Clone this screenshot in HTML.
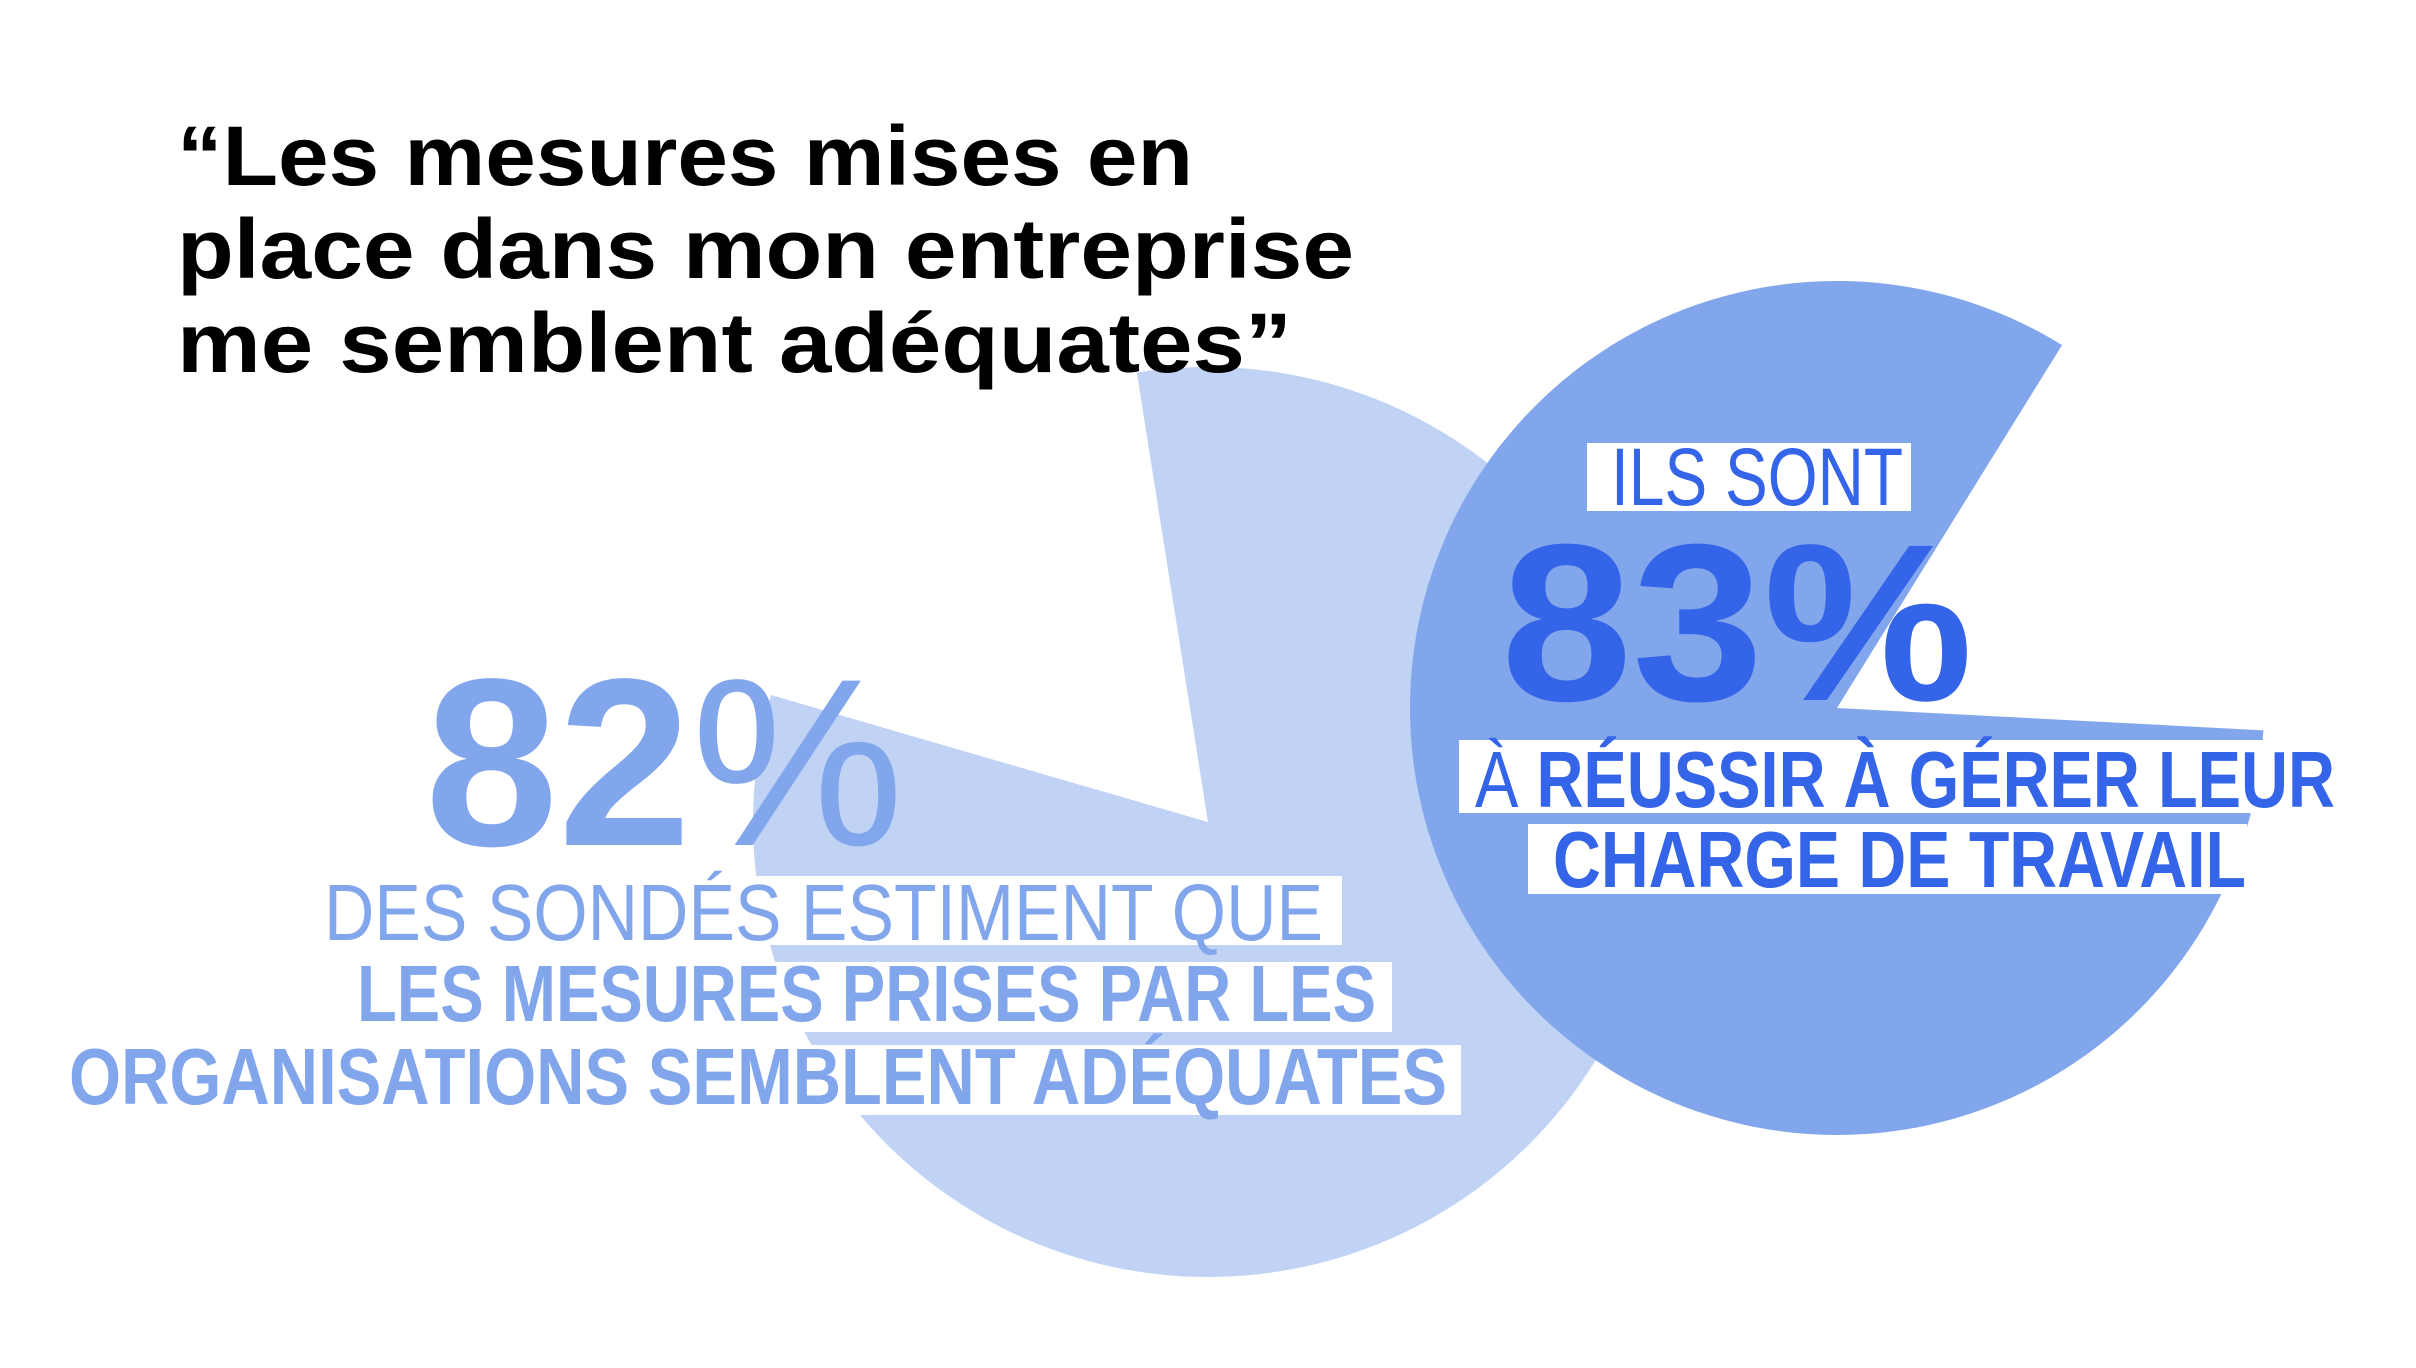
<!DOCTYPE html>
<html><head><meta charset="utf-8"><style>
html,body{margin:0;padding:0;background:#fff;width:2416px;height:1368px;overflow:hidden}
svg{display:block}
text{font-family:"Liberation Sans",sans-serif}
</style></head><body>
<svg width="2416" height="1368" viewBox="0 0 2416 1368">
<g id="pies"></g>
<g id="labels">
<text x="177" y="185" font-size="84" font-weight="bold" fill="#000" textLength="1016" lengthAdjust="spacingAndGlyphs">“Les mesures mises en</text>
<text x="177" y="278" font-size="84" font-weight="bold" fill="#000" textLength="1177" lengthAdjust="spacingAndGlyphs">place dans mon entreprise</text>
<text x="177" y="372" font-size="84" font-weight="bold" fill="#000" textLength="1115" lengthAdjust="spacingAndGlyphs">me semblent adéquates”</text>

<rect x="1587" y="443" width="324" height="68" fill="#fff"/>
<text x="1611" y="505" font-size="82" fill="#3464e8" textLength="292" lengthAdjust="spacingAndGlyphs">ILS SONT</text>
<text x="1501" y="700" font-size="224" font-weight="bold" fill="#3464e8" textLength="472" lengthAdjust="spacingAndGlyphs">83%</text>
<rect x="1459" y="740" width="876" height="73" fill="#fff"/>
<text x="1475" y="807" font-size="80" font-weight="bold" fill="#3464e8" textLength="860" lengthAdjust="spacingAndGlyphs"><tspan font-weight="normal">À </tspan>RÉUSSIR À GÉRER LEUR</text>
<rect x="1528" y="824" width="719" height="70" fill="#fff"/>
<text x="1553" y="887" font-size="80" font-weight="bold" fill="#3464e8" textLength="693" lengthAdjust="spacingAndGlyphs">CHARGE DE TRAVAIL</text>

<text x="425" y="845" font-size="239" font-weight="bold" fill="#82a6ec" textLength="479" lengthAdjust="spacingAndGlyphs">82<tspan font-weight="normal">%</tspan></text>
<rect x="310" y="876" width="1032" height="69" fill="#fff"/>
<text x="324" y="940" font-size="80" fill="#82a6ec" textLength="999" lengthAdjust="spacingAndGlyphs">DES SONDÉS ESTIMENT QUE</text>
<rect x="347" y="962" width="1045" height="70" fill="#fff"/>
<text x="357" y="1021" font-size="80" font-weight="bold" fill="#82a6ec" textLength="1019" lengthAdjust="spacingAndGlyphs">LES MESURES PRISES PAR LES</text>
<rect x="63" y="1045" width="1398" height="70" fill="#fff"/>
<text x="69" y="1104" font-size="80" font-weight="bold" fill="#82a6ec" textLength="1378" lengthAdjust="spacingAndGlyphs">ORGANISATIONS SEMBLENT ADÉQUATES</text>
</g>
</svg>
<script>
const pieNames = ["mesures-adequates", "gerer-charge"];
const pieValues = [82, 83];
const pieStartDeg = [-9, 93];
const pieColors = ["#c0d3f5", "#82a6ec"];
const pieCx = [1208, 1837], pieCy = [822, 708], pieR = [455, 427];
const NS = "http://www.w3.org/2000/svg";
const g = document.getElementById("pies");
function pt(cx, cy, r, deg) {
  const a = deg * Math.PI / 180;
  return [cx + r * Math.sin(a), cy - r * Math.cos(a)];
}
for (let i = 0; i < pieValues.length; i++) {
  const sweep = pieValues[i] / 100 * 360;
  const s = pt(pieCx[i], pieCy[i], pieR[i], pieStartDeg[i]);
  const e = pt(pieCx[i], pieCy[i], pieR[i], pieStartDeg[i] + sweep);
  const large = sweep > 180 ? 1 : 0;
  const p = document.createElementNS(NS, "path");
  p.setAttribute("d", `M${pieCx[i]},${pieCy[i]} L${s[0]},${s[1]} A${pieR[i]},${pieR[i]} 0 ${large} 1 ${e[0]},${e[1]} Z`);
  p.setAttribute("fill", pieColors[i]);
  
  
  g.appendChild(p);
}
</script>
</body></html>
